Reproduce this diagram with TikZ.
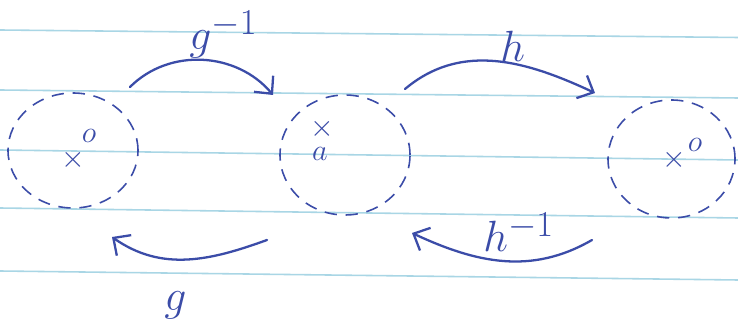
\documentclass[tikz,border=0pt]{standalone}
\usepackage{tikz}
\usetikzlibrary{shapes.geometric, arrows.meta}
\definecolor{penblue}{HTML}{3B4CA8}
\definecolor{ruleblue}{HTML}{A9D6E5}

\begin{document}
\begin{tikzpicture}[
    set/.style={ellipse, draw=penblue, line width=0.9pt, dash pattern=on 7pt off 5pt,
                minimum width=#1, minimum height=2.36cm, inner sep=0pt},
    pt/.style={text=penblue, font=\fontsize{16}{18}\selectfont, inner sep=0pt},
    lbl/.style={text=penblue, font=\fontsize{28}{32}\selectfont, inner sep=0pt, anchor=base west},
    map/.style={draw=penblue, line width=1.3pt, line cap=round,
                -{Straight Barb[length=2.6mm, width=5mm]}}
]
    \useasboundingbox (0,0) rectangle (14.76,6.5);
    \fill[white] (0,0) rectangle (14.76,6.5);
    \foreach \yl/\yr in {5.90/5.75, 4.70/4.54, 3.50/3.30, 2.34/2.14, 1.08/0.90}
        \draw[ruleblue, line width=0.9pt] (0,\yl) -- (14.76,\yr);

    \node[set=2.60cm, minimum height=2.30cm] (s1) at (1.46,3.49) {};
    \node[set=2.60cm, minimum height=2.40cm] (s2) at (6.90,3.40) {};
    \node[set=2.54cm] (s3) at (13.43,3.32) {};

    \node[pt] (x1) at (1.46,3.30) {$\times$};
    \node[pt] (o1) at (1.78,3.78) {$o$};
    \node[pt] (x2) at (6.44,3.92) {$\times$};
    \node[pt] (a2) at (6.40,3.42) {$a$};
    \node[pt] (x3) at (13.48,3.30) {$\times$};
    \node[pt] (o3) at (13.90,3.60) {$o$};

    \coordinate (ginvs) at (2.60,4.76);
    \coordinate (ginve) at (5.46,4.60);
    \coordinate (hs) at (8.10,4.72);
    \coordinate (he) at (11.90,4.64);
    \coordinate (gs) at (5.34,1.70);
    \coordinate (ge) at (2.24,1.76);
    \coordinate (hinvs) at (11.84,1.70);
    \coordinate (hinve) at (8.24,1.84);

    \draw[map] (ginvs) to[out=45, in=130] (ginve);
    \draw[map] (hs) to[out=40, in=155] (he);
    \draw[map] (gs) to[out=200, in=-35] (ge);
    \draw[map] (hinvs) to[out=210, in=-25] (hinve);

    \node[lbl] (lginv) at (3.78,5.50) {$g^{-1}$};
    \node[lbl] (lh) at (10.00,5.26) {$h$};
    \node[lbl] (lg) at (3.28,0.28) {$g$};
    \node[lbl] (lhinv) at (9.66,1.46) {$h^{-1}$};
\end{tikzpicture}
\end{document}
